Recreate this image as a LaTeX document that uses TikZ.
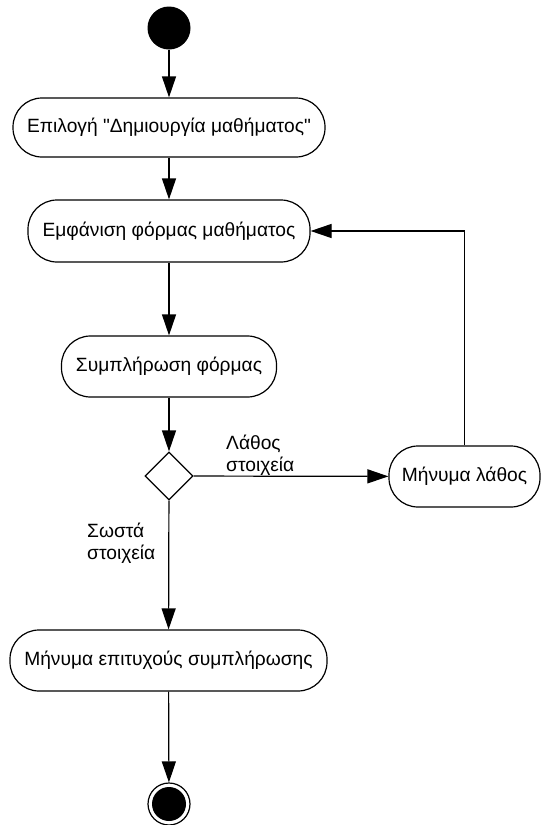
\documentclass[tikz,border=0pt]{standalone}
\usepackage{fontspec}
\setmainfont{Liberation Sans}
\usetikzlibrary{arrows.meta,shapes.geometric}
\newcommand{\straightquote}{{\XeTeXglyph\XeTeXglyphindex "quotedbl"\relax}}
\begin{document}
\begin{tikzpicture}[x=1pt,y=-1pt,
  act/.style={draw,line width=1.2pt,rounded corners=29pt,inner sep=0pt,
    font=\fontsize{19.2}{22}\selectfont},
  flow/.style={line width=1.2pt,-{Triangle[length=21pt,width=14pt]}},
  lbl/.style={inner sep=0pt,align=left,font=\fontsize{19.2}{22}\selectfont}]
\useasboundingbox (0,0) rectangle (542,825);
\node[circle,fill=black,minimum size=43pt,inner sep=0pt] (start) at (169,28) {};
\node[act,minimum width=312pt,minimum height=59pt] (n1) at (169,127.5) {Επιλογή \straightquote Δημιουργία μαθήματος\straightquote};
\node[act,minimum width=282pt,minimum height=62pt] (n2) at (169,231) {Εμφάνιση φόρμας μαθήματος};
\node[act,minimum width=215pt,minimum height=61pt] (n3) at (169,366.5) {Συμπλήρωση φόρμας};
\node[diamond,draw,line width=1.2pt,minimum width=48pt,minimum height=48pt,inner sep=0pt] (dec) at (169,476) {};
\node[act,minimum width=151pt,minimum height=61pt] (err) at (464.5,476.5) {Μήνυμα λάθος};
\node[act,minimum width=317pt,minimum height=61pt] (n4) at (168.5,660.5) {Μήνυμα επιτυχούς συμπλήρωσης};
\node[circle,draw,line width=1.2pt,minimum size=42pt,inner sep=0pt] (end) at (169,804) {};
\node[circle,fill=black,minimum size=34pt,inner sep=0pt] (endin) at (169,804) {};
\node[lbl,anchor=west] (l1) at (226,455) {Λάθος\\στοιχεία};
\node[lbl,anchor=west] (l2) at (87,543) {Σωστά\\στοιχεία};
\draw[flow] (start) -- (n1);
\draw[flow] (n1) -- (n2);
\draw[flow] (n2) -- (n3);
\draw[flow] (n3) -- (dec);
\draw[flow] (dec) -- (err);
\draw[flow] (dec) -- (n4);
\draw[flow] (n4) -- (end);
\draw[flow] (err.north) |- (n2.east);
\end{tikzpicture}
\end{document}
